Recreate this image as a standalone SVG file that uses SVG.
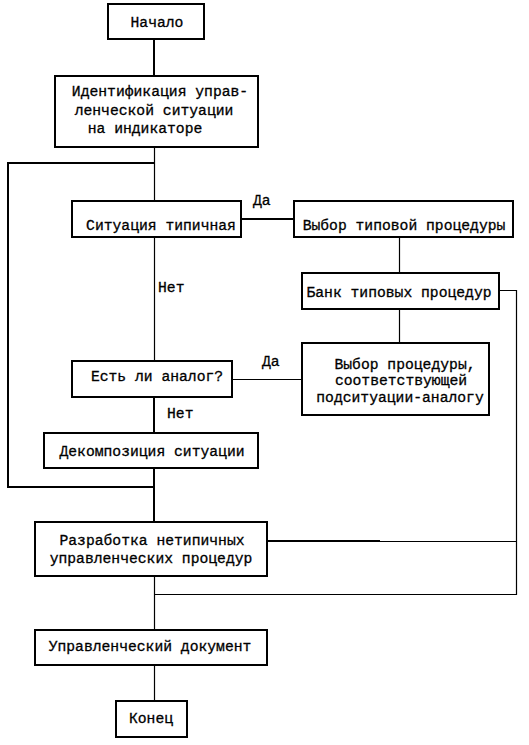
<svg xmlns="http://www.w3.org/2000/svg" width="529" height="745" viewBox="0 0 529 745">
<style>
.box{fill:#fff;stroke:#000;stroke-width:2}
.t{font-family:"Liberation Mono","DejaVu Sans Mono",monospace;font-size:14.7px;fill:#000;stroke:#000;stroke-width:0.3;text-anchor:middle}
.l{font-family:"Liberation Mono","DejaVu Sans Mono",monospace;font-size:14.7px;fill:#000;stroke:#000;stroke-width:0.3}
.c1{fill:none;stroke:#000;stroke-width:1.2}
.c2{fill:none;stroke:#000;stroke-width:2}
</style>
<rect width="529" height="745" fill="#fff"/>
<g id="connectors">
<path class="c2" d="M154 39V76"/>
<path class="c1" d="M154.5 147V200"/>
<path class="c2" d="M154 163H8V487H154"/>
<path class="c2" d="M241 219H293"/>
<path class="c1" d="M399.5 237V273"/>
<path class="c1" d="M499 290.5H516.5V594.5H154"/>
<path class="c1" d="M399.5 309V343"/>
<path class="c1" d="M154.5 237V361"/>
<path class="c1" d="M232 379.5H302"/>
<path class="c2" d="M154 397V433"/>
<path class="c2" d="M154 468V522"/>
<path class="c2" d="M267 541H380"/>
<path class="c1" d="M380 541.5H516"/>
<path class="c1" d="M154.5 576V630"/>
<path class="c1" d="M154.5 665V701"/>
<text class="l" x="253" y="205">Да</text>
<text class="l" x="158" y="292">Нет</text>
<text class="l" x="262" y="366">Да</text>
<text class="l" x="167" y="418">Нет</text>
</g>
<g id="start"><rect class="box" x="108" y="4" width="96" height="35"/><text class="t" x="157" y="27">Начало</text></g>
<g id="identify"><rect class="box" x="55" y="76" width="203" height="71"/>
<text class="t" x="160" y="96">Идентификация управ-</text>
<text class="t" x="154" y="115">ленческой ситуации</text>
<text class="t" x="145" y="133">на индикаторе</text></g>
<g id="typical"><rect class="box" x="72" y="201" width="169" height="36"/><text class="t" x="161" y="230">Ситуация типичная</text></g>
<g id="choose-typical"><rect class="box" x="294" y="201" width="219" height="36"/><text class="t" x="404" y="230">Выбор типовой процедуры</text></g>
<g id="bank"><rect class="box" x="302" y="273" width="197" height="36"/><text class="t" x="399" y="297">Банк типовых процедур</text></g>
<g id="choose-analog"><rect class="box" x="302" y="343" width="187" height="72"/>
<text class="t" x="405" y="369">Выбор процедуры,</text>
<text class="t" x="401" y="385">соответствующей</text>
<text class="t" x="400" y="402">подситуации-аналогу</text></g>
<g id="analog"><rect class="box" x="72" y="361" width="160" height="36"/><text class="t" x="157" y="381">Есть ли аналог?</text></g>
<g id="decompose"><rect class="box" x="44" y="433" width="214" height="35"/><text class="t" x="152" y="456">Декомпозиция ситуации</text></g>
<g id="develop"><rect class="box" x="35" y="522" width="232" height="54"/>
<text class="t" x="152" y="545">Разработка нетипичных</text>
<text class="t" x="151" y="563">управленческих процедур</text></g>
<g id="document"><rect class="box" x="35" y="630" width="232" height="35"/><text class="t" x="150" y="651">Управленческий документ</text></g>
<g id="end"><rect class="box" x="116" y="701" width="71" height="36"/><text class="t" x="151" y="723">Конец</text></g>
</svg>
